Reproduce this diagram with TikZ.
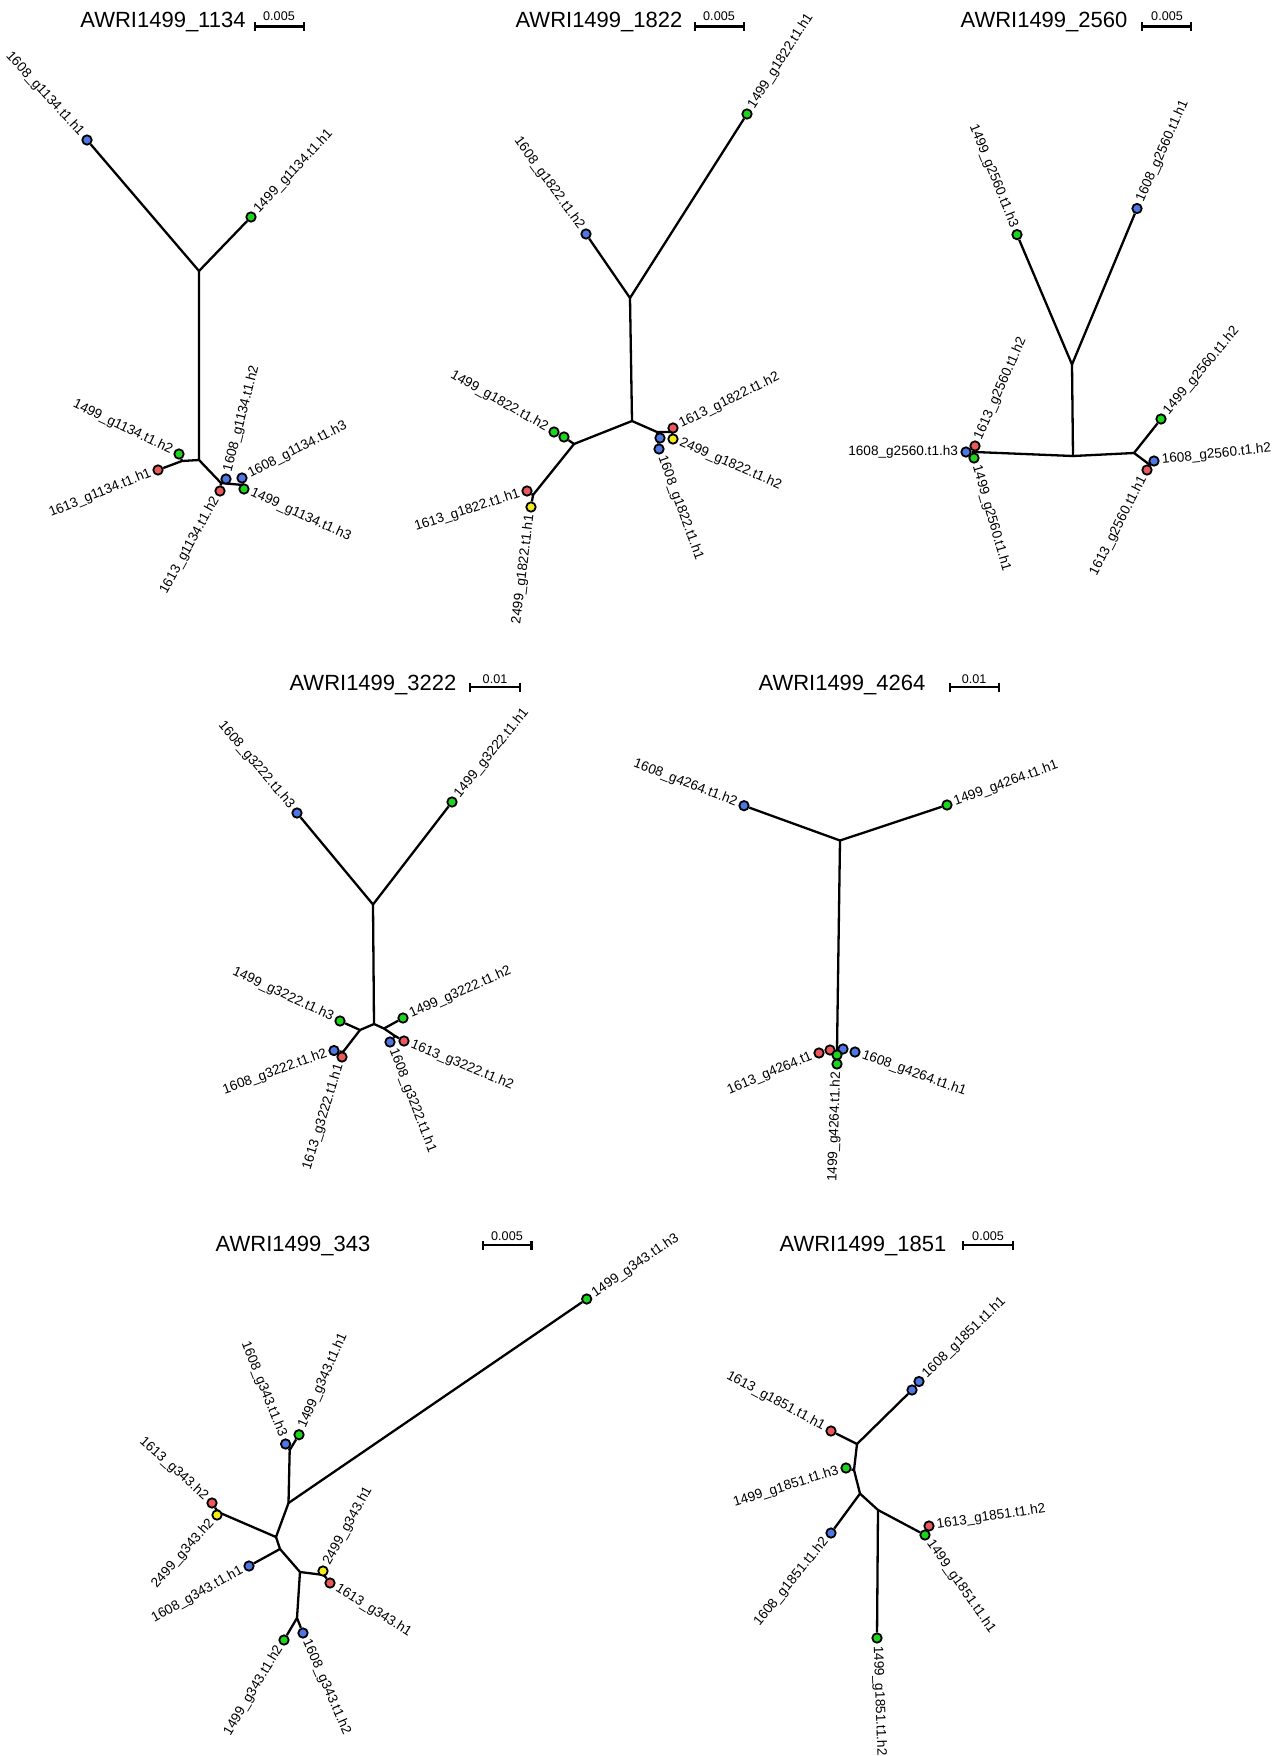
\documentclass[tikz,border=0pt]{standalone}
\usepackage{fontspec}
\setmainfont{Liberation Sans}
\usetikzlibrary{arrows.meta,backgrounds}
\definecolor{leafblue}{RGB}{77,119,227}
\definecolor{leafgreen}{RGB}{28,214,28}
\definecolor{leafred}{RGB}{236,88,92}
\definecolor{leafyellow}{RGB}{242,236,24}
\tikzset{
  leaf/.style={circle, draw=black, line width=0.9pt, inner sep=0pt, minimum size=4.7pt},
  bl/.style={leaf, fill=leafblue},
  gr/.style={leaf, fill=leafgreen},
  rd/.style={leaf, fill=leafred},
  yl/.style={leaf, fill=leafyellow},
  lab/.style={font=\fontsize{6.8}{8}\selectfont, inner sep=3.8pt},
  lw/.style={lab, anchor=west},
  le/.style={lab, anchor=east},
  ttl/.style={font=\fontsize{11}{13}\selectfont, anchor=base, inner sep=0pt},
  sbt/.style={font=\fontsize{6.3}{7}\selectfont, anchor=base, inner sep=0pt},
  br/.style={line width=1.15pt},
  sbar/.style={line width=1.1pt, arrows={Bar[width=4.5pt]-Bar[width=4.5pt]}},
}
\begin{document}
\begin{tikzpicture}[x=0.5pt, y=-0.5pt]
                \useasboundingbox (0,0) rectangle (1284,1756);

                % AWRI1499_1134
                \node[ttl] (ttla) at (163,27) {AWRI1499\_1134};
                \node[sbt] (sbta) at (279,20) {0.005};
                \coordinate (sbal) at (254,26.5);
                \coordinate (sbar) at (305,26.5);
                \draw[sbar] (sbal) -- (sbar);
                \coordinate (a1) at (199,271);
                \coordinate (a2) at (199,460);
                \coordinate (a3) at (182,461);
                \coordinate (a4) at (221,483);
                \coordinate (a5) at (243,485);
                \node[bl] (a1608h1) at (87,140) {};
                \node[gr] (a1499h1) at (251,217) {};
                \node[gr] (a1499h2) at (179,454) {};
                \node[rd] (a1613h1) at (158,470) {};
                \node[bl] (a1608h2) at (226,479) {};
                \node[rd] (a1613h2) at (220,491) {};
                \node[bl] (a1608h3) at (242,478) {};
                \node[gr] (a1499h3) at (244,489) {};
                \node[le, rotate=-47.5] (la1608h1) at (a1608h1) {1608\_g1134.t1.h1};
                \node[lw, rotate=47] (la1499h1) at (a1499h1) {1499\_g1134.t1.h1};
                \node[le, rotate=-25.6] (la1499h2) at (a1499h2) {1499\_g1134.t1.h2};
                \node[le, rotate=22] (la1613h1) at (a1613h1) {1613\_g1134.t1.h1};
                \node[lw, rotate=75.5] (la1608h2) at (a1608h2) {1608\_g1134.t1.h2};
                \node[le, rotate=61] (la1613h2) at (a1613h2) {1613\_g1134.t1.h2};
                \node[lw, rotate=27] (la1608h3) at (a1608h3) {1608\_g1134.t1.h3};
                \node[lw, rotate=-24.5] (la1499h3) at (a1499h3) {1499\_g1134.t1.h3};
                \begin{scope}[on background layer]
                \draw[br] (a1608h1) -- (a1) -- (a1499h1);
                \draw[br] (a1) -- (a2) -- (a3) -- (a1613h1);
                \draw[br] (a3) -- (a1499h2);
                \draw[br] (a2) -- (a4) -- (a5) -- (a1499h3);
                \draw[br] (a5) -- (a1608h3);
                \draw[br] (a4) -- (a1608h2);
                \draw[br] (a4) -- (a1613h2);
                \end{scope}

                % AWRI1499_1822
                \node[ttl] (ttlb) at (599,27) {AWRI1499\_1822};
                \node[sbt] (sbtb) at (719,20) {0.005};
                \coordinate (sbbl) at (694,26.5);
                \coordinate (sbbr) at (745,26.5);
                \draw[sbar] (sbbl) -- (sbbr);
                \coordinate (b1) at (630,298);
                \coordinate (b2) at (632,421);
                \coordinate (b3) at (574,444);
                \coordinate (b4) at (533,495);
                \coordinate (b5) at (657,432);
                \coordinate (b6) at (672,432);
                \node[bl] (b1608h2) at (586,234) {};
                \node[gr] (b1499h1) at (747,114) {};
                \node[gr] (b1499h2) at (554,432) {};
                \node[gr] (b1499x) at (564,437) {};
                \node[rd] (b1613h1) at (527,491) {};
                \node[yl] (b2499h1) at (531,507) {};
                \node[rd] (b1613h2) at (673,428) {};
                \node[yl] (b2499h2) at (673,439) {};
                \node[bl] (b1608x) at (660,438) {};
                \node[bl] (b1608h1) at (659,449) {};
                \node[le, rotate=-54] (lb1608h2) at (b1608h2) {1608\_g1822.t1.h2};
                \node[lw, rotate=57.5] (lb1499h1) at (b1499h1) {1499\_g1822.t1.h1};
                \node[le, rotate=-29.4] (lb1499h2) at (b1499h2) {1499\_g1822.t1.h2};
                \node[le, rotate=18] (lb1613h1) at (b1613h1) {1613\_g1822.t1.h1};
                \node[le, rotate=83] (lb2499h1) at (b2499h1) {2499\_g1822.t1.h1};
                \node[lw, rotate=26] (lb1613h2) at (b1613h2) {1613\_g1822.t1.h2};
                \node[lw, rotate=-23.6] (lb2499h2) at (b2499h2) {2499\_g1822.t1.h2};
                \node[lw, rotate=-70] (lb1608h1) at (b1608h1) {1608\_g1822.t1.h1};
                \begin{scope}[on background layer]
                \draw[br] (b1608h2) -- (b1) -- (b1499h1);
                \draw[br] (b1) -- (b2) -- (b3) -- (b1499x);
                \draw[br] (b3) -- (b4) -- (b1613h1);
                \draw[br] (b4) -- (b2499h1);
                \draw[br] (b2) -- (b5) -- (b6) -- (b1613h2);
                \draw[br] (b6) -- (b2499h2);
                \draw[br] (b5) -- (b1608h1);
                \end{scope}

                % AWRI1499_2560
                \node[ttl] (ttlc) at (1044,27) {AWRI1499\_2560};
                \node[sbt] (sbtc) at (1167,20) {0.005};
                \coordinate (sbcl) at (1141,26.5);
                \coordinate (sbcr) at (1192,26.5);
                \draw[sbar] (sbcl) -- (sbcr);
                \coordinate (c1) at (1072,364.5);
                \coordinate (c2) at (1073,456);
                \coordinate (c3) at (975,452);
                \coordinate (c4) at (1134,453);
                \coordinate (c5) at (1150,465);
                \node[gr] (c1499h3) at (1017,234.6) {};
                \node[bl] (c1608h1) at (1137,208.5) {};
                \node[bl] (c1608h3) at (966,452) {};
                \node[rd] (c1613h2) at (975,446) {};
                \node[gr] (c1499h1) at (974,458) {};
                \node[gr] (c1499h2) at (1161,419) {};
                \node[bl] (c1608h2) at (1154,461) {};
                \node[rd] (c1613h1) at (1147,470) {};
                \node[le, rotate=-68] (lc1499h3) at (c1499h3) {1499\_g2560.t1.h3};
                \node[lw, rotate=66] (lc1608h1) at (c1608h1) {1608\_g2560.t1.h1};
                \node[lw, rotate=66] (lc1613h2) at (c1613h2) {1613\_g2560.t1.h2};
                \node[le, rotate=0] (lc1608h3) at (c1608h3) {1608\_g2560.t1.h3};
                \node[lw, rotate=-74] (lc1499h1) at (c1499h1) {1499\_g2560.t1.h1};
                \node[lw, rotate=50] (lc1499h2) at (c1499h2) {1499\_g2560.t1.h2};
                \node[lw, rotate=6] (lc1608h2) at (c1608h2) {1608\_g2560.t1.h2};
                \node[le, rotate=63] (lc1613h1) at (c1613h1) {1613\_g2560.t1.h1};
                \begin{scope}[on background layer]
                \draw[br] (c1499h3) -- (c1) -- (c1608h1);
                \draw[br] (c1) -- (c2) -- (c3) -- (c1608h3);
                \draw[br] (c2) -- (c4) -- (c1499h2);
                \draw[br] (c4) -- (c5) -- (c1608h2);
                \draw[br] (c5) -- (c1613h1);
                \end{scope}

                % AWRI1499_3222
                \node[ttl] (ttld) at (373,690) {AWRI1499\_3222};
                \node[sbt] (sbtd) at (495,683) {0.01};
                \coordinate (sbdl) at (469,687);
                \coordinate (sbdr) at (521,687);
                \draw[sbar] (sbdl) -- (sbdr);
                \coordinate (d1) at (373,904.5);
                \coordinate (d2) at (374,1024);
                \coordinate (d3) at (360,1030);
                \coordinate (d4) at (343,1052);
                \coordinate (d5) at (384,1028.5);
                \coordinate (d6) at (395,1036);
                \node[bl] (d1608h3) at (297,813) {};
                \node[gr] (d1499h1) at (452,802) {};
                \node[gr] (d1499h3) at (340,1021) {};
                \node[bl] (d1608h2) at (334,1050.5) {};
                \node[rd] (d1613h1) at (342,1057) {};
                \node[gr] (d1499h2) at (403,1018) {};
                \node[bl] (d1608h1) at (390,1042) {};
                \node[rd] (d1613h2) at (404,1041) {};
                \node[le, rotate=-49.6] (ld1608h3) at (d1608h3) {1608\_g3222.t1.h3};
                \node[lw, rotate=51] (ld1499h1) at (d1499h1) {1499\_g3222.t1.h1};
                \node[le, rotate=-25] (ld1499h3) at (d1499h3) {1499\_g3222.t1.h3};
                \node[le, rotate=20] (ld1608h2) at (d1608h2) {1608\_g3222.t1.h2};
                \node[le, rotate=72.7] (ld1613h1) at (d1613h1) {1613\_g3222.t1.h1};
                \node[lw, rotate=24] (ld1499h2) at (d1499h2) {1499\_g3222.t1.h2};
                \node[lw, rotate=-69] (ld1608h1) at (d1608h1) {1608\_g3222.t1.h1};
                \node[lw, rotate=-22.6] (ld1613h2) at (d1613h2) {1613\_g3222.t1.h2};
                \begin{scope}[on background layer]
                \draw[br] (d1608h3) -- (d1) -- (d1499h1);
                \draw[br] (d1) -- (d2) -- (d3) -- (d1499h3);
                \draw[br] (d3) -- (d4) -- (d1608h2);
                \draw[br] (d4) -- (d1613h1);
                \draw[br] (d2) -- (d5) -- (d1499h2);
                \draw[br] (d5) -- (d6) -- (d1608h1);
                \draw[br] (d6) -- (d1613h2);
                \end{scope}

                % AWRI1499_4264
                \node[ttl] (ttle) at (842,690) {AWRI1499\_4264};
                \node[sbt] (sbte) at (974,683) {0.01};
                \coordinate (sbel) at (949,687);
                \coordinate (sber) at (1000,687);
                \draw[sbar] (sbel) -- (sber);
                \coordinate (e1) at (840,840.5);
                \coordinate (e2) at (837,1050);
                \node[bl] (e1608h2) at (744,805.7) {};
                \node[gr] (e1499h1) at (947,805) {};
                \node[rd] (e1613h1) at (819,1053) {};
                \node[rd] (e1613x) at (830,1050) {};
                \node[bl] (e1608x) at (843,1049) {};
                \node[bl] (e1608h1) at (855,1052) {};
                \node[gr] (e1499x) at (837,1055) {};
                \node[gr] (e1499h2) at (837,1064) {};
                \node[le, rotate=-21] (le1608h2) at (e1608h2) {1608\_g4264.t1.h2};
                \node[lw, rotate=20] (le1499h1) at (e1499h1) {1499\_g4264.t1.h1};
                \node[le, rotate=23] (le1613h1) at (e1613h1) {1613\_g4264.t1};
                \node[lw, rotate=-20] (le1608h1) at (e1608h1) {1608\_g4264.t1.h1};
                \node[le, rotate=88] (le1499h2) at (e1499h2) {1499\_g4264.t1.h2};
                \begin{scope}[on background layer]
                \draw[br] (e1608h2) -- (e1) -- (e1499h1);
                \draw[br] (e1) -- (e2);
                \end{scope}

                % AWRI1499_343
                \node[ttl] (ttlf) at (293,1251) {AWRI1499\_343};
                \node[sbt] (sbtf) at (507,1240) {0.005};
                \coordinate (sbfl) at (481.5,1245);
                \coordinate (sbfr) at (532.5,1245);
                \draw[sbar] (sbfl) -- (sbfr);
                \coordinate (f1) at (288.5,1503);
                \coordinate (f2) at (289.7,1450);
                \coordinate (f3) at (276,1537);
                \coordinate (f4) at (280,1549);
                \coordinate (f5) at (300,1572);
                \coordinate (f6) at (297,1618);
                \coordinate (f7) at (218,1512);
                \coordinate (f8) at (324,1575);
                \node[gr] (f1499h3) at (586.7,1299) {};
                \node[bl] (f1608h3) at (285.6,1444) {};
                \node[gr] (f1499h1) at (299,1434.7) {};
                \node[rd] (f1613h2) at (212,1503) {};
                \node[yl] (f2499h2) at (217,1515) {};
                \node[bl] (f1608h1) at (249,1566) {};
                \node[yl] (f2499h1) at (323,1571) {};
                \node[rd] (f1613h1) at (330,1583) {};
                \node[gr] (f1499h2) at (284,1640) {};
                \node[bl] (f1608h2) at (303,1633) {};
                \node[lw, rotate=34.4] (lf1499h3) at (f1499h3) {1499\_g343.t1.h3};
                \node[le, rotate=-68.3] (lf1608h3) at (f1608h3) {1608\_g343.t1.h3};
                \node[lw, rotate=66] (lf1499h1) at (f1499h1) {1499\_g343.t1.h1};
                \node[le, rotate=-42] (lf1613h2) at (f1613h2) {1613\_g343.h2};
                \node[le, rotate=48.7] (lf2499h2) at (f2499h2) {2499\_g343.h2};
                \node[le, rotate=29] (lf1608h1) at (f1608h1) {1608\_g343.t1.h1};
                \node[lw, rotate=61] (lf2499h1) at (f2499h1) {2499\_g343.h1};
                \node[lw, rotate=-32.4] (lf1613h1) at (f1613h1) {1613\_g343.h1};
                \node[le, rotate=59] (lf1499h2) at (f1499h2) {1499\_g343.t1.h2};
                \node[lw, rotate=-66.5] (lf1608h2) at (f1608h2) {1608\_g343.t1.h2};
                \begin{scope}[on background layer]
                \draw[br] (f1) -- (f1499h3);
                \draw[br] (f1) -- (f2) -- (f1608h3);
                \draw[br] (f2) -- (f1499h1);
                \draw[br] (f1) -- (f3) -- (f7) -- (f1613h2);
                \draw[br] (f7) -- (f2499h2);
                \draw[br] (f3) -- (f4) -- (f1608h1);
                \draw[br] (f4) -- (f5) -- (f8) -- (f2499h1);
                \draw[br] (f8) -- (f1613h1);
                \draw[br] (f5) -- (f6) -- (f1499h2);
                \draw[br] (f6) -- (f1608h2);
                \end{scope}

                % AWRI1499_1851
                \node[ttl] (ttlg) at (863,1251) {AWRI1499\_1851};
                \node[sbt] (sbtg) at (988,1240) {0.005};
                \coordinate (sbgl) at (962,1245);
                \coordinate (sbgr) at (1014,1245);
                \draw[sbar] (sbgl) -- (sbgr);
                \coordinate (g1) at (857,1444);
                \coordinate (g2) at (854,1470);
                \coordinate (g3) at (860,1493.6);
                \coordinate (g4) at (878,1510);
                \node[rd] (g1613h1) at (831,1431) {};
                \node[bl] (g1608x) at (912,1390) {};
                \node[bl] (g1608h1) at (919,1381.5) {};
                \node[gr] (g1499h3) at (846,1468) {};
                \node[bl] (g1608h2) at (831,1533) {};
                \node[gr] (g1499h2) at (877,1638) {};
                \node[rd] (g1613h2) at (929,1526) {};
                \node[gr] (g1499h1) at (925,1535) {};
                \node[le, rotate=-28.4] (lg1613h1) at (g1613h1) {1613\_g1851.t1.h1};
                \node[lw, rotate=44] (lg1608h1) at (g1608h1) {1608\_g1851.t1.h1};
                \node[le, rotate=17.5] (lg1499h3) at (g1499h3) {1499\_g1851.t1.h3};
                \node[le, rotate=51] (lg1608h2) at (g1608h2) {1608\_g1851.t1.h2};
                \node[lw, rotate=-88] (lg1499h2) at (g1499h2) {1499\_g1851.t1.h2};
                \node[lw, rotate=8.4] (lg1613h2) at (g1613h2) {1613\_g1851.t1.h2};
                \node[lw, rotate=-55] (lg1499h1) at (g1499h1) {1499\_g1851.t1.h1};
                \begin{scope}[on background layer]
                \draw[br] (g1613h1) -- (g1) -- (g1608x);
                \draw[br] (g1) -- (g2) -- (g3) -- (g1608h2);
                \draw[br] (g2) -- (g1499h3);
                \draw[br] (g3) -- (g4) -- (g1499h2);
                \draw[br] (g4) -- (g1499h1);
                \end{scope}
\end{tikzpicture}
\end{document}
